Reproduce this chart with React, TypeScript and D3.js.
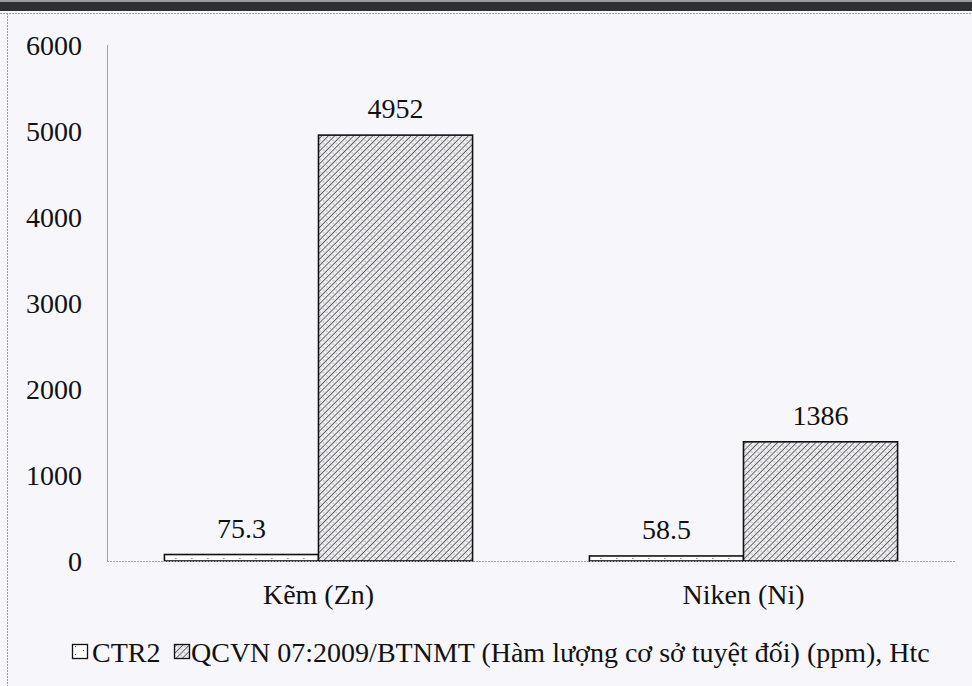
import React from "react";
import * as d3 from "d3";

const categories = ["Kẽm (Zn)", "Niken (Ni)"];
const seriesNames = ["CTR2", "QCVN 07:2009/BTNMT (Hàm lượng cơ sở tuyệt đối) (ppm), Htc"];
const ctr2Values = [75.3, 58.5];
const qcvnValues = [4952, 1386];
const ctr2Labels = ["75.3", "58.5"];
const qcvnLabels = ["4952", "1386"];
const yTicks = [0, 1000, 2000, 3000, 4000, 5000, 6000];

const W = 972;
const H = 686;
const FONT = "Liberation Serif";

export default function App() {
  const x0 = 106;
  const x1 = 956;
  const yScale = d3.scaleLinear().domain([0, 6000]).range([561, 45]);
  const xBand = d3.scaleBand<string>().domain(categories).range([x0, x1]).paddingInner(0.275).paddingOuter(0.1375);
  const xSub = d3.scaleBand<number>().domain([0, 1]).range([0, xBand.bandwidth()]);
  const series = [
    { values: ctr2Values, labels: ctr2Labels, fill: "url(#dots)" },
    { values: qcvnValues, labels: qcvnLabels, fill: "url(#diag)" },
  ];
  return (
    <svg width={W} height={H} style={{ position: "absolute", left: 0, top: 0 }} xmlns="http://www.w3.org/2000/svg">
      <defs>
        <pattern id="dots" width="16" height="8" patternUnits="userSpaceOnUse">
          <rect width="16" height="8" fill="#ffffff" />
          <rect x="3" y="2" width="1" height="1" fill="#555" />
          <rect x="11" y="6" width="1" height="1" fill="#555" />
        </pattern>
        <pattern id="diag" width="4.5" height="4.5" patternUnits="userSpaceOnUse" patternTransform="rotate(45)">
          <rect width="4.5" height="4.5" fill="#eeeef3" />
          <line x1="0" y1="0" x2="0" y2="4.5" stroke="#3a3a3a" strokeWidth="1.5" />
          <rect x="2.2" y="2" width="1" height="1" fill="#8a8a8a" />
        </pattern>
      </defs>
      <rect width={W} height={H} fill="#f6f6fb" />
      <rect x={0} y={0} width={W} height={11} fill="#2e2f33" />
      <rect x={0} y={0} width={W} height={2} fill="#9a9aa0" />
      <line x1={0} x2={W} y1={13.5} y2={13.5} stroke="#9a9aa0" strokeWidth={1} strokeDasharray="2 1" />
      <line x1={7.5} x2={7.5} y1={13} y2={H} stroke="#9a9aa0" strokeWidth={1} strokeDasharray="2 1" />

      <line x1={x0 + 1.5} x2={x0 + 1.5} y1={yScale(6000)} y2={yScale(0)} stroke="#a0a0a8" strokeWidth={1} />
      {yTicks.map((t) => (
        <text key={t} x={82} y={yScale(t)} dy="0.35em" textAnchor="end" fontFamily={FONT} fontSize={28} fill="#111">
          {t}
        </text>
      ))}

      {categories.map((c, ci) => (
        <g key={c} transform={`translate(${xBand(c)},0)`}>
          {series.map((s, si) => {
            const v = s.values[ci];
            const bx = xSub(si)!;
            const by = yScale(v);
            return (
              <g key={si}>
                <rect x={bx} y={by} width={xSub.bandwidth()} height={yScale(0) - by} fill={s.fill} stroke="#111" strokeWidth={1.6} />
                <text x={bx + xSub.bandwidth() / 2} y={by - 17} textAnchor="middle" fontFamily={FONT} fontSize={28} fill="#111">
                  {s.labels[ci]}
                </text>
              </g>
            );
          })}
          <text x={xBand.bandwidth() / 2} y={604} textAnchor="middle" fontFamily={FONT} fontSize={28} fill="#111">
            {c}
          </text>
        </g>
      ))}

      <line x1={x0 + 1} x2={x1} y1={yScale(0) + 0.5} y2={yScale(0) + 0.5} stroke="#a0a0a8" strokeWidth={1} strokeDasharray="2 1" />

      <g>
        <rect x={72.5} y={644.5} width={15} height={14} fill="url(#dots)" stroke="#111" strokeWidth={1.3} />
        <text x={92} y={662} fontFamily={FONT} fontSize={28} fill="#111">{seriesNames[0]}</text>
        <rect x={174.5} y={644.5} width={15} height={14} fill="url(#diag)" stroke="#111" strokeWidth={1.3} />
        <text x={191} y={662} fontFamily={FONT} fontSize={28} fill="#111">{seriesNames[1]}</text>
      </g>
    </svg>
  );
}
